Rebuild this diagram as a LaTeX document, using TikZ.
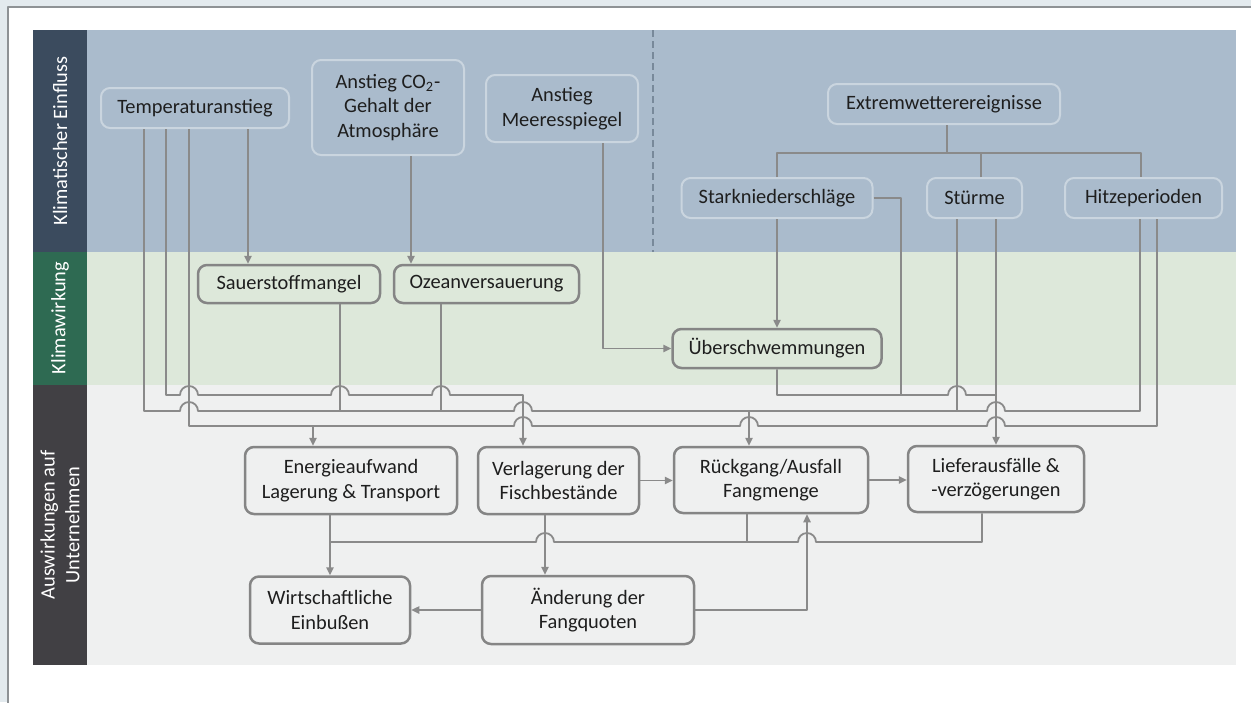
\documentclass[tikz,border=0pt]{standalone}
\usepackage{fontspec}
\setmainfont{Carlito}
\usetikzlibrary{arrows.meta}
\definecolor{outerbg}{HTML}{E3EAEE}
\definecolor{framecol}{HTML}{8E9295}
\definecolor{bandA}{HTML}{AABBCC}
\definecolor{labA}{HTML}{3B4B5E}
\definecolor{bandB}{HTML}{DDE8DA}
\definecolor{labB}{HTML}{2E6A52}
\definecolor{bandC}{HTML}{EFF0F0}
\definecolor{labC}{HTML}{414044}
\definecolor{topline}{HTML}{CAD5DF}
\definecolor{boxline}{HTML}{858585}
\definecolor{linkcol}{HTML}{8A8A8A}
\definecolor{txt}{HTML}{1E1E1E}
\newcommand{\hop}{arc[start angle=180,end angle=0,radius=4.5pt]}
\newcommand{\hopl}{arc[start angle=0,end angle=180,radius=4.5pt]}
\tikzset{
	boxsize/.style 2 args={minimum width=#1, minimum height=#2},
	box/.style={rounded corners=4.5pt, align=center, inner sep=0pt, text=txt, font=\fontsize{10.2}{12.3}\selectfont},
	topbox/.style={box, draw=topline, fill=bandA, line width=1pt},
	midbox/.style={box, draw=boxline, fill=bandB, line width=1.25pt},
	lowbox/.style={box, draw=boxline, fill=bandC, line width=1.25pt},
	link/.style={draw=linkcol, line width=0.9pt},
	lab/.style={rotate=90, text=white, align=center, font=\fontsize{10.2}{12.3}\selectfont},
}
\begin{document}
\begin{tikzpicture}[x=0.5pt, y=-0.5pt, line join=round, >={Triangle[length=4pt,width=3.6pt]}]
	\useasboundingbox (0,0) rectangle (1251,702);
	% frame and bands
	\fill[outerbg] (0,0) rectangle (1251,702);
	\draw[framecol, fill=white, line width=0.8pt] (8,7) rectangle (1262,712);
	\fill[labA] (33,30) rectangle (87,252);
	\fill[bandA] (87,30) rectangle (1236,252);
	\fill[labB] (33,252) rectangle (87,385);
	\fill[bandB] (87,252) rectangle (1236,385);
	\fill[labC] (33,385) rectangle (87,665);
	\fill[bandC] (87,385) rectangle (1236,665);
	\draw[draw=labA!45!bandA, line width=0.6pt, dash pattern=on 3.5pt off 2pt] (653,30)--(653,252);
	\path
	(60,141)node[lab](labA){Klimatischer Einfluss}
	(60,318)node[lab](labB){Klimawirkung}
	(60,525)node[lab](labC){Auswirkungen auf\\Unternehmen}
	;
	% klimatischer Einfluss
	\path
	(195,108)node[topbox, boxsize={94pt}{20pt}](temp){Temperaturanstieg}
	(388,107.5)node[topbox, boxsize={76pt}{47.5pt}](co2){Anstieg CO\textsubscript{2}-\\Gehalt der\\Atmosphäre}
	(562,108.5)node[topbox, boxsize={76pt}{33.5pt}](meer){Anstieg\\Meeresspiegel}
	(944,104)node[topbox, boxsize={116pt}{20pt}](extrem){Extremwetterereignisse}
	(777,198)node[topbox, boxsize={95.5pt}{20pt}](stark){Starkniederschläge}
	(974.5,198)node[topbox, boxsize={47.5pt}{20pt}](stuerme){Stürme}
	(1143.5,198)node[topbox, boxsize={78.5pt}{20pt}](hitze){Hitzeperioden}
	;
	% Klimawirkung
	\path
	(289,284)node[midbox, boxsize={91pt}{19pt}](sauer){Sauerstoffmangel}
	(486.5,284)node[midbox, boxsize={92.5pt}{19pt}](ozean){Ozeanversauerung}
	(777,348.5)node[midbox, boxsize={104.5pt}{19.5pt}](ueber){Überschwemmungen}
	;
	% Auswirkungen
	\path
	(351,480.5)node[lowbox, boxsize={106pt}{33.5pt}](energie){Energieaufwand\\Lagerung \& Transport}
	(558.5,480.5)node[lowbox, boxsize={80.5pt}{33.5pt}](verl){Verlagerung der\\Fischbestände}
	(771,480)node[lowbox, boxsize={97pt}{33pt}](rueck){Rückgang/Ausfall\\Fangmenge}
	(996,479)node[lowbox, boxsize={88pt}{33pt}](liefer){Lieferausfälle \&\\-verzögerungen}
	(330,610)node[lowbox, boxsize={80pt}{33.5pt}](wirt){Wirtschaftliche\\Einbußen}
	(588,610)node[lowbox, boxsize={106pt}{34pt}](aend){Änderung der\\Fangquoten}
	;
	\coordinate (busA) at (0,395);
	\coordinate (busB) at (0,411);
	\coordinate (busC) at (0,426);
	\coordinate (busE) at (0,542);
	\coordinate (jB) at (749,411);
	% upper links
	\draw[link,->](248,0 |- temp.south)--(248,0 |- sauer.north);
	\draw[link,->](411,0 |- co2.south)--(411,0 |- ozean.north);
	\draw[link,->](603,0 |- meer.south)|-(ueber.west);
	\draw[link,->](stark.south)--(ueber.north);
	\draw[link](947,0 |- extrem.south)--(947,153);
	\draw[link](777,0 |- stark.north)|-(1141,153)--(1141,0 |- hitze.north);
	\draw[link](981,0 |- stuerme.north)--(981,153);
	% busses
	\draw[link,->](166,0 |- temp.south)|-(180,0 |- busA)\hop--(331,395)\hop--(432,395)\hop-|(523,0 |- verl.north);
	\draw[link,->](144,0 |- temp.south)|-(180,0 |- busB)\hop--(514,411)\hop-|(749,0 |- rueck.north);
	\draw[link](jB)--(987,411)\hop-|(1140,0 |- hitze.south);
	\draw[link](340,0 |- sauer.south)--(340,0 |- busB);
	\draw[link](441,0 |- ozean.south)--(441,0 |- busB);
	\draw[link](957,0 |- stuerme.south)--(957,0 |- busB);
	\draw[link,->](189,0 |- temp.south)|-(313,0 |- busC)--(313,0 |- energie.north);
	\draw[link](1157,0 |- hitze.south)|-(1005,0 |- busC)\hopl--(758,426)\hopl--(532,426)\hopl--(313,426);
	\draw[link](777,0 |- ueber.south)|-(948,0 |- busA)\hop--(996,395);
	\draw[link](stark.east)-|(901,0 |- busA);
	\draw[link,->](996,0 |- stuerme.south)--(996,0 |- liefer.north);
	% lower links
	\draw[link,->](verl.east)--(verl.east -| rueck.west);
	\draw[link,->](rueck.east)--(rueck.east -| liefer.west);
	\draw[link,->](330,0 |- energie.south)--(330,0 |- wirt.north);
	\draw[link,->](545,0 |- verl.south)--(545,0 |- aend.north);
	\draw[link,->](aend.west)--(wirt.east);
	\draw[link,->](aend.east)-|(807,0 |- rueck.south);
	\draw[link](982,0 |- liefer.south)|-(816,0 |- busE)\hopl--(554,542)\hopl--(330,542);
	\draw[link](747,0 |- rueck.south)--(747,0 |- busE);
\end{tikzpicture}
\end{document}
